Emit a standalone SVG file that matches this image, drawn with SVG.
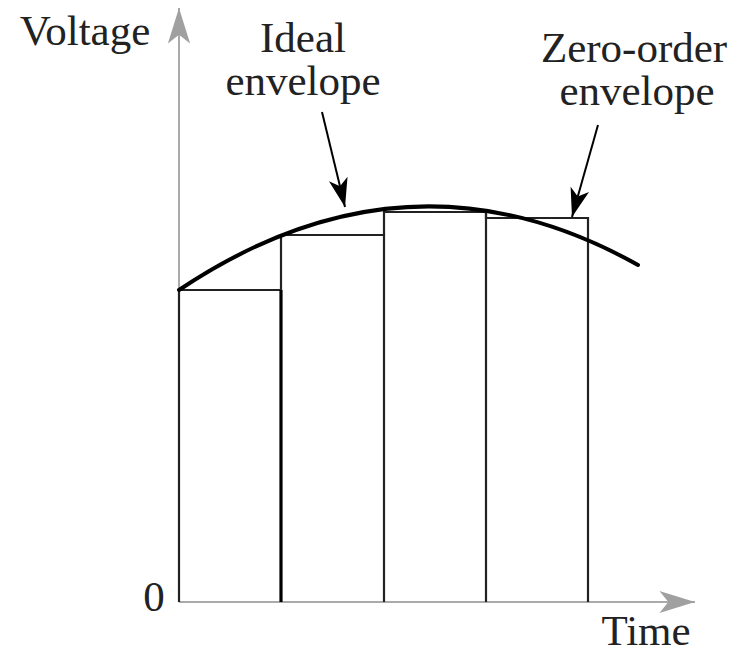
<svg xmlns="http://www.w3.org/2000/svg" width="744" height="655" viewBox="0 0 744 655">
  <style>
    .lbl { font-size: 43px; fill: #222; text-anchor: middle; }
    .axis { stroke: #aaaaaa; stroke-width: 2; fill: none; }
    .bar { stroke: #222222; stroke-width: 2.2; fill: none; }
    .env { stroke: #000000; stroke-width: 4; fill: none; stroke-linecap: round; }
    .ptr { stroke: #000000; stroke-width: 2; fill: none; }
  </style>
  <defs>
    <marker id="grey-arrow" markerUnits="userSpaceOnUse" markerWidth="40" markerHeight="30" viewBox="-34 -12 36 24" refX="0" refY="0" orient="auto">
      <path d="M0,0 L-32,-10 L-24,0 L-32,10 Z" fill="#a0a0a0"/>
    </marker>
    <marker id="black-arrow" markerUnits="userSpaceOnUse" markerWidth="34" markerHeight="24" viewBox="-30 -10 32 20" refX="0" refY="0" orient="auto">
      <path d="M0,0 L-27,-9 L-20,0 L-27,9 Z" fill="#000000"/>
    </marker>
  </defs>
  <rect width="744" height="655" fill="#ffffff"/>

  <g id="axes">
    <line class="axis" x1="179" y1="602" x2="179" y2="8" marker-end="url(#grey-arrow)"/>
    <line class="axis" x1="179" y1="602" x2="695" y2="602" marker-end="url(#grey-arrow)"/>
  </g>

  <g id="samples">
    <polyline class="bar" points="179,602 179,290 281,290"/>
    <line x1="281" y1="290" x2="281" y2="602" stroke="#000" stroke-width="3.2"/>
    <polyline class="bar" points="281,290 281,235 384,235 384,602"/>
    <polyline class="bar" points="384,235 384,212 486,212 486,602"/>
    <polyline class="bar" points="486,212 486,218 588,218 588,602"/>
  </g>

  <g id="ideal-envelope">
    <path class="env" d="M179,290 Q408.5,136.4 638,265"/>
  </g>

  <g id="connectors">
    <line class="ptr" x1="322" y1="112" x2="345" y2="207" marker-end="url(#black-arrow)"/>
    <line class="ptr" x1="598" y1="125" x2="572" y2="217" marker-end="url(#black-arrow)"/>
  </g>

  <g id="labels" font-family="'Liberation Serif', 'DejaVu Serif', serif">
    <text class="lbl" x="85" y="45">Voltage</text>
    <text class="lbl" x="303" y="52">Ideal</text>
    <text class="lbl" x="303" y="95">envelope</text>
    <text class="lbl" x="634" y="62">Zero-order</text>
    <text class="lbl" x="637" y="105">envelope</text>
    <text class="lbl" x="154" y="611">0</text>
    <text class="lbl" x="646" y="645">Time</text>
  </g>
</svg>
